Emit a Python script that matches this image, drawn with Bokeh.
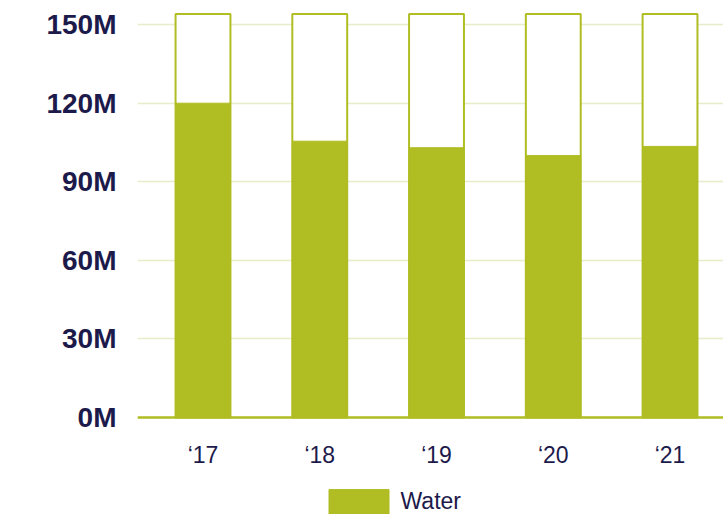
from bokeh.plotting import figure
from bokeh.models import ColumnDataSource, Range1d, FixedTicker, Legend, LegendItem
from bokeh.embed import file_html
from bokeh.resources import INLINE

# Annual water figures (millions)
years = ["‘17", "‘18", "‘19", "‘20", "‘21"]
water = [120, 105.5, 103, 100, 103.5]
capacity = [154, 154, 154, 154, 154]
y_ticks = [0, 30, 60, 90, 120, 150]
y_tick_labels = ["0M", "30M", "60M", "90M", "120M", "150M"]

GREEN = "#b0bd23"
NAVY = "#1c1a4a"
GRID = "#e7ecc9"
FONT = "Liberation Sans"

source = ColumnDataSource(dict(
    x=list(range(len(years))),
    water=water,
    capacity=capacity,
))

# the frame fills the canvas height; the space below zero holds the
# year labels and the legend
p = figure(
    width=723, height=514,
    output_backend="svg", toolbar_location=None,
    x_range=Range1d(-0.561, 4.458),
    y_range=Range1d(-37.0, 159.2),
    min_border_left=137, min_border_right=0,
    min_border_top=0, min_border_bottom=0,
)
p.outline_line_color = None
p.background_fill_color = "white"
p.border_fill_color = "white"

# outlined full-height bars, with the filled water bars on top
p.vbar(x="x", top="capacity", width=0.47, source=source,
       fill_color="white", line_color=GREEN, line_width=2)
water_r = p.vbar(x="x", top="water", width=0.47, source=source,
                 fill_color=GREEN, line_color=GREEN, line_width=1)

# y axis: bold labels, no line or ticks
p.yaxis.ticker = FixedTicker(ticks=y_ticks)
p.yaxis.major_label_overrides = {t: l for t, l in zip(y_ticks, y_tick_labels)}
p.yaxis.axis_line_color = None
p.yaxis.major_tick_line_color = None
p.yaxis.minor_tick_line_color = None
p.yaxis.major_label_standoff = 15
p.yaxis.major_label_text_font = FONT
p.yaxis.major_label_text_font_style = "bold"
p.yaxis.major_label_text_font_size = "28px"
p.yaxis.major_label_text_color = NAVY

# x axis: green baseline at zero, year labels
p.xaxis.fixed_location = 0
p.xaxis.ticker = FixedTicker(ticks=list(range(len(years))))
p.xaxis.major_label_overrides = {i: y for i, y in enumerate(years)}
p.xaxis.axis_line_color = GREEN
p.xaxis.axis_line_width = 2.5
p.xaxis.major_tick_line_color = None
p.xaxis.minor_tick_line_color = None
p.xaxis.major_label_standoff = 18
p.xaxis.major_label_text_font = FONT
p.xaxis.major_label_text_font_size = "23px"
p.xaxis.major_label_text_color = NAVY

p.xgrid.grid_line_color = None
p.ygrid.ticker = FixedTicker(ticks=y_ticks)
p.ygrid.grid_line_color = GRID
p.ygrid.grid_line_width = 1.5

# legend swatch area is inset by 10% when drawn, so it is sized up
legend = Legend(
    items=[LegendItem(label="Water", renderers=[water_r])],
    location=(183.5, -3),
    orientation="horizontal",
    glyph_width=75, glyph_height=31,
    label_height=31,
    label_standoff=5,
    padding=0, margin=0, spacing=0,
    border_line_color=None,
    background_fill_alpha=0,
    label_text_font=FONT,
    label_text_font_size="23px",
    label_text_color=NAVY,
)
p.add_layout(legend, "center")

open("out.html", "w").write(file_html(p, INLINE))
